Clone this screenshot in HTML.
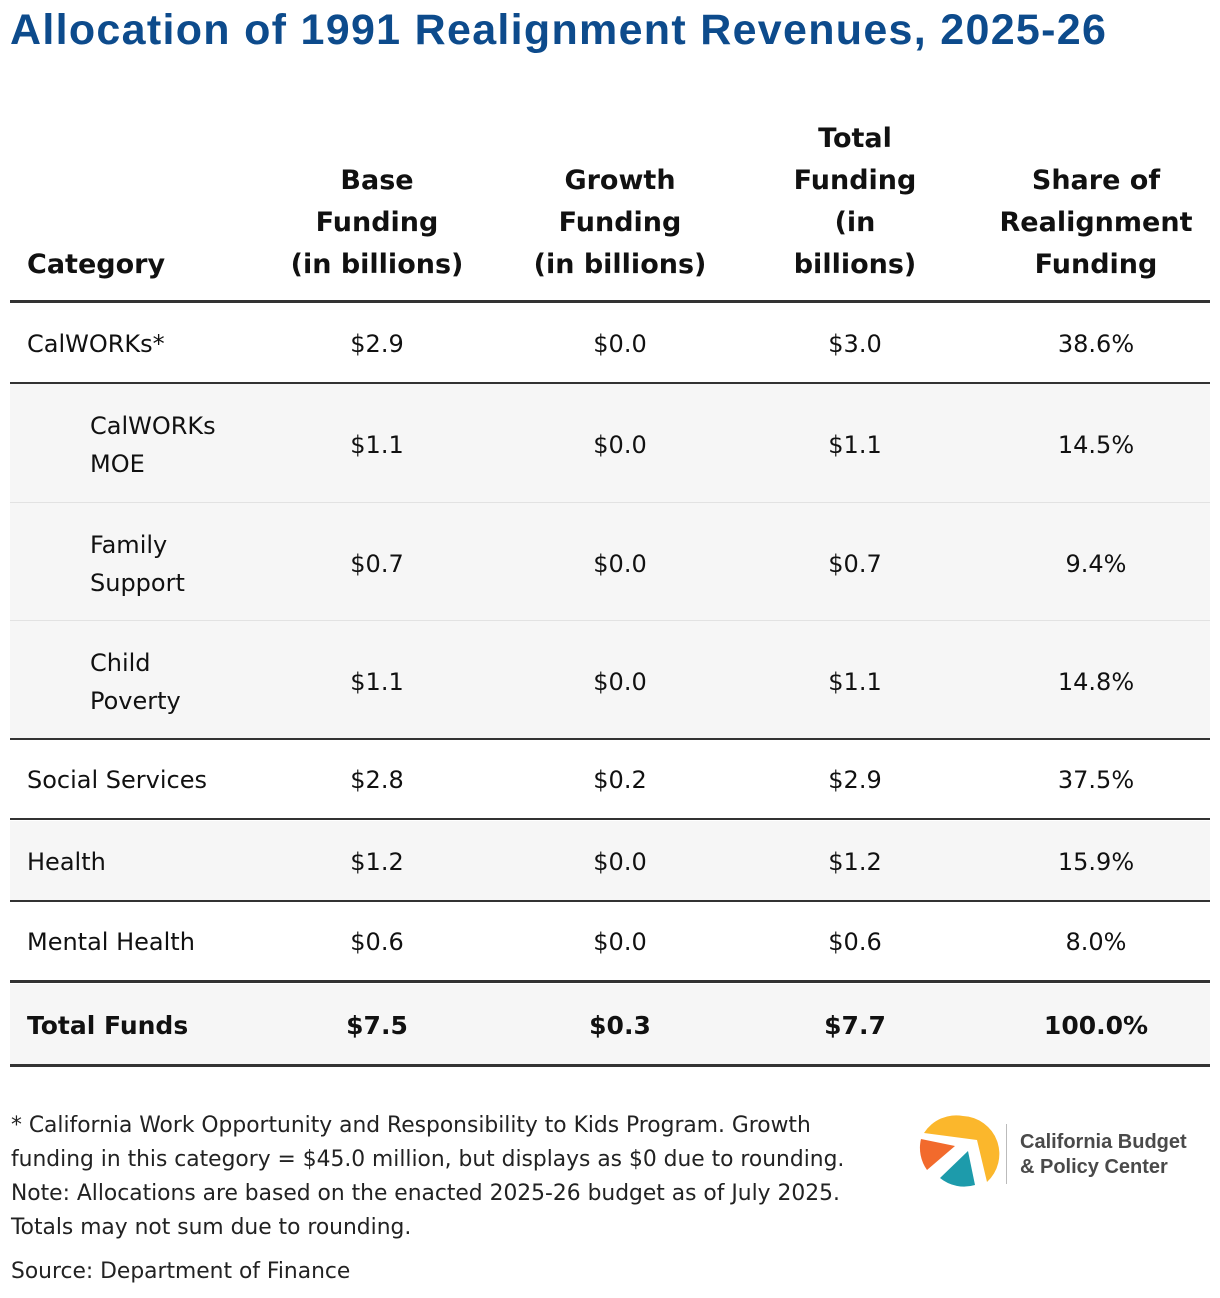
<!DOCTYPE html>
<html><head><meta charset="utf-8"><style>
body{margin:0;width:1220px;height:1298px;background:#fff;position:relative;font-family:"DejaVu Sans","Liberation Sans",sans-serif;color:#111;overflow:hidden}
.a{position:absolute}
.t{position:absolute;line-height:38px;height:38px;white-space:nowrap}
.c{transform:translateX(-50%);text-align:center}
.h{font-weight:bold;font-size:27px;line-height:42px}
.b{font-size:24px}
.line{position:absolute;left:10px;width:1200px;background:#333}
.bg{position:absolute;left:10px;width:1200px;background:#f6f6f6}
.f{position:absolute;left:11px;font-size:21.8px;line-height:34px;color:#222;white-space:nowrap}
</style></head><body>
<div class="a" style="left:10px;top:6px;font:bold 43px 'Liberation Sans',sans-serif;color:#0d4b8c;letter-spacing:1.3px">Allocation of 1991 Realignment Revenues, 2025-26</div>

<div class="bg" style="top:384px;height:118px"></div>
<div class="bg" style="top:503px;height:117px"></div>
<div class="bg" style="top:621px;height:118px"></div>
<div class="bg" style="top:821px;height:79px"></div>
<div class="bg" style="top:984px;height:81px"></div>
<div class="line" style="top:502px;height:1px;background:#e2e2e2"></div>
<div class="line" style="top:620px;height:1px;background:#e2e2e2"></div>

<div class="line" style="top:300px;height:3px"></div>
<div class="line" style="top:382px;height:2px"></div>
<div class="line" style="top:738px;height:2px"></div>
<div class="line" style="top:818px;height:2px"></div>
<div class="line" style="top:900px;height:2px"></div>
<div class="line" style="top:980px;height:3px"></div>
<div class="line" style="top:1064px;height:3px"></div>

<div id="tbl"></div>

<div class="f" style="top:1109px">* California Work Opportunity and Responsibility to Kids Program. Growth<br>funding in this category = $45.0 million, but displays as $0 due to rounding.<br>Note: Allocations are based on the enacted 2025-26 budget as of July 2025.<br>Totals may not sum due to rounding.</div>
<div class="f" style="top:1255px">Source: Department of Finance</div>

<svg class="a" style="left:915px;top:1112px" width="290" height="80">
<path d="M48 4 A38 38 0 0 1 72 70 L62 28 L9 21 A38 38 0 0 1 48 4Z" fill="#fbb72c"/>
<path d="M6 27 L40 34 L12 58 A38 38 0 0 1 6 27Z" fill="#f26a2c"/>
<path d="M25 66 L53 39 L60 73 A38 38 0 0 1 25 66Z" fill="#1d9bab"/>
<rect x="91" y="12" width="1" height="60" fill="#bbb"/>
<text x="105" y="36" font-family="Liberation Sans,sans-serif" font-size="20" font-weight="bold" fill="#4a4a4a">California Budget</text>
<text x="105" y="61" font-family="Liberation Sans,sans-serif" font-size="20" font-weight="bold" fill="#4a4a4a">&amp; Policy Center</text>
</svg>

<script>
const categories=["CalWORKs*","CalWORKs|MOE","Family|Support","Child|Poverty","Social Services","Health","Mental Health","Total Funds"];
const baseVals=["$2.9","$1.1","$0.7","$1.1","$2.8","$1.2","$0.6","$7.5"];
const growthVals=["$0.0","$0.0","$0.0","$0.0","$0.2","$0.0","$0.0","$0.3"];
const totalVals=["$3.0","$1.1","$0.7","$1.1","$2.9","$1.2","$0.6","$7.7"];
const shareVals=["38.6%","14.5%","9.4%","14.8%","37.5%","15.9%","8.0%","100.0%"];
const tbl=document.getElementById('tbl');
function add(txt,x,yc,cls,center,name){
  const d=document.createElement('div');
  d.className='t '+cls+(center?' c':'');
  
  
  d.style.left=x+'px';d.style.top=(yc-19)+'px';d.textContent=txt;tbl.appendChild(d);
}
const hdr=[[27,["Category"]],[377,["Base","Funding","(in billions)"]],[620,["Growth","Funding","(in billions)"]],[855,["Total","Funding","(in","billions)"]],[1096,["Share of","Realignment","Funding"]]];
hdr.forEach((h,i)=>{const ls=h[1];ls.forEach((l,j)=>{add(l,h[0],263-42*(ls.length-1-j),'h',i>0,'column-header');});});
const yc=[344,445,564,682,780,862,942,1026];
const cols=[baseVals,growthVals,totalVals,shareVals];const cx=[377,620,855,1096];
categories.forEach((c,i)=>{
  const bold=i===7?' h':'';
  const parts=c.split('|');
  const x=parts.length>1?90:27;
  parts.forEach((p,j)=>add(p,x,yc[i]-(parts.length-1)*19+j*38,'b'+bold,false,'row-label'));
  cols.forEach((arr,k)=>add(arr[i],cx[k],yc[i],'b'+bold,true,'cell-value'));
});
tbl.querySelectorAll('.h.b').forEach(e=>{e.style.fontSize='25px';e.style.lineHeight='38px';});
</script>
</body></html>
